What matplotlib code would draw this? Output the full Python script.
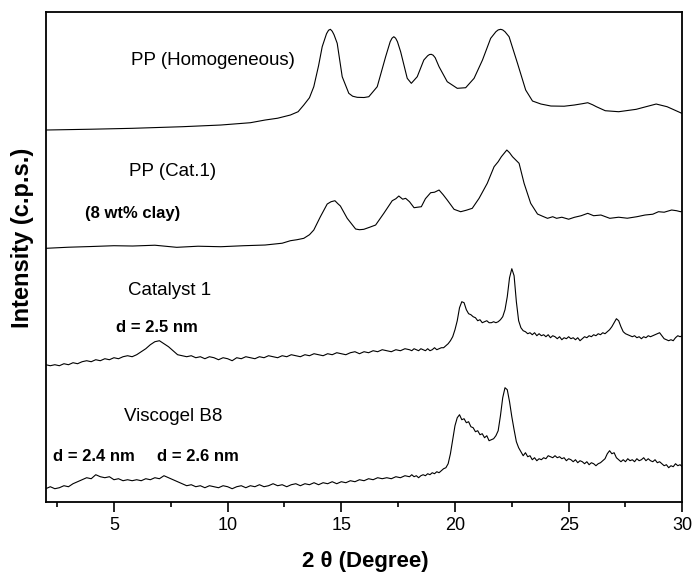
import numpy as np
import matplotlib
matplotlib.use("Agg")
import matplotlib.pyplot as plt
from matplotlib.ticker import MultipleLocator

plt.rcParams['font.family'] = ['Liberation Sans', 'DejaVu Sans']

# ---- data (intensity in arbitrary units, curves already offset) ----
# PP (Homogeneous)
pp_homo_2theta = [2.0, 4.0, 5.8, 8.0, 9.7, 11.0, 11.65, 12.2, 12.76, 13.1,
                  13.35, 13.6, 13.79, 14.0, 14.16, 14.35, 14.44, 14.52, 14.60, 14.68,
                  14.82, 15.04, 15.33, 15.5, 15.7, 16.0, 16.21, 16.58, 16.95, 17.15,
                  17.23, 17.31, 17.39, 17.47, 17.61, 17.9, 18.08, 18.34, 18.63, 18.8,
                  18.88, 18.96, 19.04, 19.13, 19.3, 19.66, 20.1, 20.47, 20.84, 21.21,
                  21.57, 21.8, 21.9, 22.01, 22.1, 22.2, 22.38, 22.75, 23.11, 23.41,
                  23.78, 24.22, 24.8, 25.25, 25.6, 25.84, 26.05, 26.22, 26.61, 27.2,
                  27.97, 28.4, 28.85, 29.33, 29.92, 30.0]
pp_homo_int = [371.7, 372.5, 373.4, 375, 376.7, 379, 381.7, 383.5, 386.7, 390,
               396.7, 404, 415, 436, 455, 468, 471.5, 472.4, 470.5, 467,
               458.4, 425, 408.4, 405.5, 404.4, 404.2, 405, 415, 445, 460,
               463.5, 465, 463.5, 460, 450, 423.4, 418.4, 425, 441.7, 446,
               447.2, 447.4, 446.5, 444, 435, 420, 413.4, 414, 423.4, 441.7,
               463.4, 470, 471.8, 472.4, 471.8, 470, 465, 438.4, 411.7, 400.7,
               397.7, 395.7, 395.5, 396.7, 398, 399, 397, 395, 391, 390,
               392.4, 395, 397.7, 395, 389, 388]

# PP (Cat.1), 8 wt% clay
pp_cat_2theta = [2.0, 3.0, 4.0, 5.0, 5.82, 6.8, 7.76, 8.7, 9.7, 10.7,
                 11.65, 12.4, 12.76, 13.05, 13.35, 13.6, 13.79, 14.08, 14.38, 14.55,
                 14.72, 14.85, 14.96, 15.26, 15.63, 15.8, 15.99, 16.25, 16.51, 16.87,
                 17.24, 17.4, 17.53, 17.7, 17.83, 18.0, 18.2, 18.35, 18.52, 18.7,
                 18.93, 19.1, 19.3, 19.48, 19.66, 19.96, 20.25, 20.5, 20.76, 21.06,
                 21.42, 21.72, 21.9, 22.04, 22.28, 22.4, 22.53, 22.82, 23.04, 23.33,
                 23.63, 23.85, 24.07, 24.3, 24.47, 24.7, 25.0, 25.25, 25.55, 25.84,
                 26.1, 26.42, 26.81, 27.2, 27.58, 28.0, 28.36, 28.7, 28.95, 29.2,
                 29.53, 29.75, 29.92, 30.0]
pp_cat_int = [253.4, 254.5, 255.2, 256, 255.7, 256.5, 254.4, 255.5, 255, 256,
              256.7, 258.5, 261, 262, 263.4, 267, 271.7, 285, 297.7, 300,
              301, 298, 295.7, 283.4, 272.7, 272, 272.4, 274.5, 276.7, 288.4,
              301, 303, 305.7, 302.5, 303.4, 300, 294, 294.5, 295, 303,
              309, 309.5, 311.7, 307, 301.7, 292.4, 290, 291.5, 293.4, 303.4,
              318.4, 335, 340, 345, 351.7, 349, 345, 338.4, 318.4, 298.4,
              287.7, 285.5, 283.4, 285, 283.4, 284.5, 282.5, 284.4, 286, 288.4,
              286, 286.7, 283.4, 284.5, 283.5, 285, 286.7, 287.5, 290, 289.5,
              291.7, 291, 290, 290.5]

# scan grid for the two raw clay patterns: 0.2 deg steps to 17.8, then 0.1 deg
scan_2theta = np.concatenate([np.linspace(2.0, 17.8, 80), np.linspace(18.0, 30.0, 121)])

catalyst1_int = [
    137, 136, 137, 136, 138, 137, 139, 138, 140, 141,
    140, 142, 141, 143, 142, 144, 143, 145, 146, 145,
    147, 150, 153, 157, 160, 161, 158, 155, 151, 147,
    146, 145, 146, 144, 145, 143, 145, 144, 142, 144,
    143, 141, 144, 143, 145, 144, 143, 145, 144, 146,
    145, 144, 146, 145, 147, 146, 145, 147, 146, 148,
    147, 146, 148, 147, 149, 148, 147, 149, 150, 148,
    150, 149, 151, 150, 152, 151, 150, 152, 151, 153,
    # 18.0 - 30.0
    152, 151, 153, 152, 151, 153, 152, 151, 153, 151,
    152, 154, 152, 153, 154, 154, 156, 158, 161, 165,
    172, 181, 194, 200, 199, 192, 188, 187, 185, 184,
    181, 182, 179, 180, 181, 179, 179, 180, 179, 180,
    182, 185, 192, 205, 224, 233, 226, 200, 181, 174,
    171, 170, 168, 169, 167, 169, 166, 168, 166, 167,
    165, 167, 164, 166, 165, 163, 165, 162, 164, 163,
    165, 163, 164, 162, 164, 161, 163, 165, 164, 166,
    165, 167, 166, 168, 167, 169, 168, 170, 172, 175,
    179, 183, 181, 175, 170, 168, 167, 166, 165, 166,
    164, 165, 163, 165, 164, 166, 165, 166, 167, 168,
    169, 166, 163, 162, 161, 162, 161, 164, 166, 165,
    166]

viscogel_int = [
    13, 15, 13, 14, 16, 15, 18, 20, 22, 24,
    23, 27, 25, 24, 25, 22, 23, 21, 22, 21,
    22, 21, 23, 22, 24, 23, 26, 24, 22, 20,
    18, 16, 17, 15, 16, 14, 16, 15, 14, 16,
    15, 13, 15, 16, 14, 16, 15, 17, 15, 16,
    18, 16, 17, 15, 17, 18, 16, 18, 17, 19,
    17, 19, 18, 20, 18, 20, 19, 21, 20, 22,
    21, 23, 22, 24, 23, 24, 23, 25, 24, 26,
    # 18.0 - 30.0
    25, 27, 25, 26, 24, 26, 27, 26, 28, 27,
    29, 28, 30, 29, 31, 33, 34, 38, 48, 62,
    76, 84, 87, 82, 83, 79, 80, 75, 74, 70,
    71, 67, 68, 64, 66, 61, 62, 63, 66, 71,
    86, 104, 114, 112, 100, 85, 72, 60, 54, 50,
    46, 49, 45, 46, 42, 44, 41, 43, 42, 44,
    43, 46, 45, 44, 46, 44, 45, 43, 44, 41,
    43, 42, 40, 42, 39, 41, 40, 38, 40, 37,
    39, 38, 36, 38, 39, 41, 43, 48, 51, 48,
    49, 44, 42, 40, 42, 40, 43, 41, 42, 40,
    43, 41, 42, 44, 41, 43, 41, 40, 42, 39,
    40, 38, 36, 37, 34, 36, 35, 38, 36, 37,
    35]

# ---- plot ----
fig = plt.figure(figsize=(6.93, 5.73), dpi=100)
ax = fig.add_axes([0.066, 0.1244, 0.9186, 0.8541])

lw = 0.8
ax.plot(pp_homo_2theta, pp_homo_int, color='black', lw=lw)
ax.plot(pp_cat_2theta, pp_cat_int, color='black', lw=lw)
ax.plot(scan_2theta, catalyst1_int, color='black', lw=lw)
ax.plot(scan_2theta, viscogel_int, color='black', lw=lw)

ax.set_xlim(2, 30)
ax.set_ylim(0, 489.4)

ax.xaxis.set_major_locator(MultipleLocator(5))
ax.xaxis.set_minor_locator(MultipleLocator(2.5))
ax.tick_params(axis='x', which='major', direction='out', length=7, width=1.2,
               labelsize=13, pad=4)
ax.tick_params(axis='x', which='minor', direction='out', length=3.6, width=1.2)
ax.set_yticks([])
for s in ax.spines.values():
    s.set_linewidth(1.3)

# curve labels
ax.text(9.37, 441.7, 'PP (Homogeneous)', fontsize=13.5, ha='center', va='center')
ax.text(7.59, 330, 'PP (Cat.1)', fontsize=13.5, ha='center', va='center')
ax.text(5.83, 288.4, '(8 wt% clay)', fontsize=12, fontweight='bold', ha='center', va='center')
ax.text(7.43, 211.7, 'Catalyst 1', fontsize=13.5, ha='center', va='center')
ax.text(6.9, 174.4, 'd = 2.5 nm', fontsize=12, fontweight='bold', ha='center', va='center')
ax.text(7.62, 85.7, 'Viscogel B8', fontsize=13.5, ha='center', va='center')
ax.text(4.1, 45, 'd = 2.4 nm', fontsize=12, fontweight='bold', ha='center', va='center')
ax.text(8.71, 45, 'd = 2.6 nm', fontsize=12, fontweight='bold', ha='center', va='center')

fig.text(365 / 693, 1 - 562 / 573, '2 θ (Degree)', fontsize=16, fontweight='bold',
         ha='center', va='center')
fig.text(23 / 693, 1 - 238 / 573, 'Intensity (c.p.s.)', fontsize=17, fontweight='bold',
         rotation=90, ha='center', va='center')

fig.savefig('out.png', dpi=100)
